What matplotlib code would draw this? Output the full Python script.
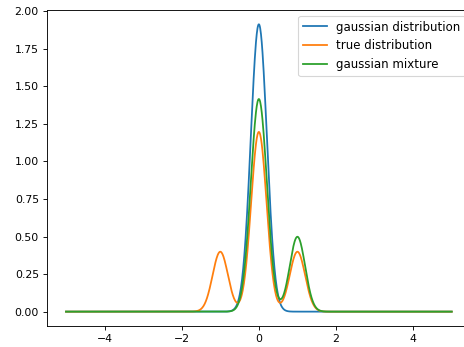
import numpy as np
import matplotlib
matplotlib.use("Agg")
import matplotlib.pyplot as plt

# x grid
x_min, x_max, n_points = -5.0, 5.0, 1000

# single gaussian fit
gauss_mean = [0.0]
gauss_weight = [1.0]
gauss_sigma = [0.2085]

# true distribution (mixture of three components)
true_means = [-1.0, 0.0, 1.0]
true_weights = [0.2, 0.6, 0.2]
true_sigmas = [0.2, 0.2, 0.2]

# fitted gaussian mixture
mix_means = [0.0, 1.0]
mix_weights = [0.74, 0.25]
mix_sigmas = [0.2085, 0.2]

labels = ["gaussian distribution", "true distribution", "gaussian mixture"]


def mixture_pdf(x, means, weights, sigmas):
    y = np.zeros_like(x)
    for m, w, s in zip(means, weights, sigmas):
        y += w * np.exp(-0.5 * ((x - m) / s) ** 2) / (s * np.sqrt(2 * np.pi))
    return y


x = np.linspace(x_min, x_max, n_points)

DPI = 80
fig = plt.figure(figsize=(464 / DPI, 347 / DPI), dpi=DPI)
ax = fig.add_axes([46.7 / 464, 21 / 347, (471 - 46.7) / 464, (326 - 10) / 347])
ax.plot(x, mixture_pdf(x, gauss_mean, gauss_weight, gauss_sigma), label=labels[0], lw=1.6)
ax.plot(x, mixture_pdf(x, true_means, true_weights, true_sigmas), label=labels[1], lw=1.6)
ax.plot(x, mixture_pdf(x, mix_means, mix_weights, mix_sigmas), label=labels[2], lw=1.6)
ax.legend(loc="upper right", fontsize=10.6, labelspacing=0.5)
ax.tick_params(labelsize=9.8)
fig.savefig("out.png", dpi=DPI)
